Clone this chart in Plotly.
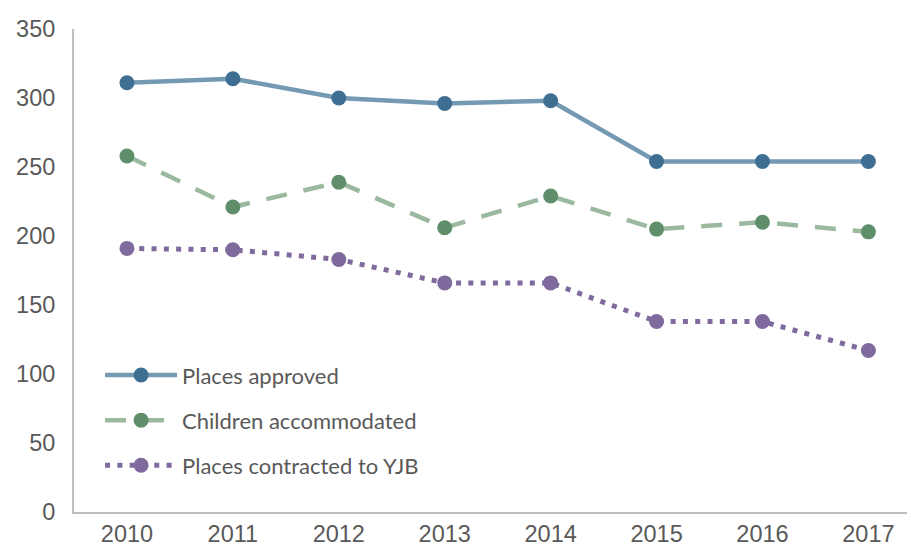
import plotly.graph_objects as go

years = ["2010", "2011", "2012", "2013", "2014", "2015", "2016", "2017"]
places_approved = [311, 314, 300, 296, 298, 254, 254, 254]
children_accommodated = [258, 221, 239, 206, 229, 205, 210, 203]
places_contracted_yjb = [191, 190, 183, 166, 166, 138, 138, 117]

y_ticks = [0, 50, 100, 150, 200, 250, 300, 350]

fig = go.Figure()
fig.add_trace(go.Scatter(
    x=years, y=places_approved, name="Places approved", mode="lines+markers",
    legendgroup="a",
    line=dict(color="#7499b3", width=4.5),
    marker=dict(color="#3e6f92", size=15),
))
fig.add_trace(go.Scatter(
    x=years, y=children_accommodated, name="Children accommodated", mode="lines+markers",
    legendgroup="b",
    line=dict(color="#9bb99f", width=4.5, dash="21px,17px"),
    marker=dict(color="#5f8e6b", size=15),
))
fig.add_trace(go.Scatter(
    x=years, y=places_contracted_yjb, name="Places contracted to YJB", mode="lines+markers",
    legendgroup="c",
    line=dict(color="#7f6a9d", width=5, dash="5px,7.3px"),
    marker=dict(color="#7f6a9d", size=15),
))

# page has an 8px body margin, so margins are trimmed to line up with the reference
fig.update_layout(
    width=915, height=548,
    margin=dict(l=63, r=8, t=16, b=44),
    paper_bgcolor="white", plot_bgcolor="white",
    font=dict(family="Liberation Sans, Arial, sans-serif", size=23, color="#595959"),
    xaxis=dict(type="category", range=[-0.5, 7.44], showgrid=False, zeroline=False,
               showline=True, linecolor="#bfbfbf", linewidth=2, ticks="",
               tickfont=dict(size=23.5, color="#595959")),
    yaxis=dict(range=[0, 350], tickvals=y_ticks, showgrid=False, zeroline=False,
               showline=True, linecolor="#bfbfbf", linewidth=2, ticks="",
               ticklabelstandoff=12,
               tickfont=dict(size=23.5, color="#595959")),
    legend=dict(x=0.031, y=0.3266, xanchor="left", yanchor="top",
                font=dict(family="Lato, Open Sans, sans-serif", size=22, color="#595959"),
                bgcolor="rgba(0,0,0,0)", tracegroupgap=13.5, itemwidth=72),
)

fig.write_html("out.html")
